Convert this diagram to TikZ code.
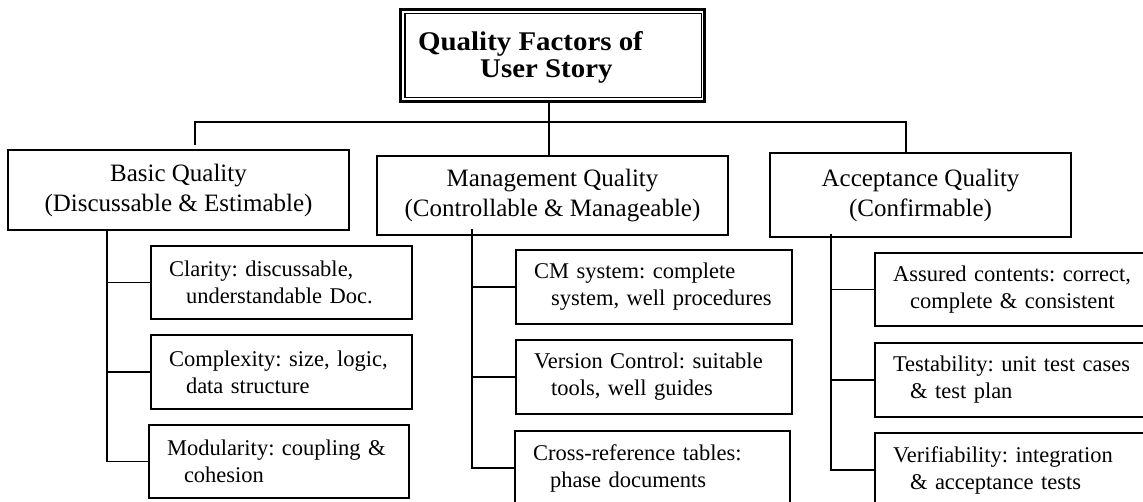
\documentclass[tikz,border=0pt]{standalone}
\usepackage{fontspec}
\setmainfont{Liberation Serif}
\newfontfamily\titlefont[FakeStretch=1.07]{Liberation Serif}
\frenchspacing
\begin{document}
\begin{tikzpicture}[x=1pt,y=-1pt,
  lvlbox/.style={draw, line width=1.8pt, inner sep=0pt, outer sep=0pt, align=center,
    font=\fontsize{25}{30}\selectfont},
  leafbox/.style={draw, line width=1.8pt, inner xsep=18pt, inner ysep=0pt, outer sep=0pt,
    align=left, font=\fontsize{22.5}{27}\selectfont},
  conn/.style={line width=1.8pt}]
\useasboundingbox (0,0) rectangle (1143,502);
\clip (0,0) rectangle (1143,502);
\fill[white] (0,0) rectangle (1143,502);

% title
\node[draw, line width=2.6pt, inner sep=0pt, outer sep=0pt,
  minimum width=304.4pt, minimum height=92.4pt] (tt) at (552.5,55.5) {};
\draw[line width=1.6pt] ([shift={(4.6,4.2)}]tt.north west) rectangle ([shift={(-3.2,-4.2)}]tt.south east);
\node[inner sep=0pt, anchor=west, align=left, font=\titlefont\bfseries\fontsize{27}{27.5}\selectfont]
  (ttx) at (418,57.5) {Quality Factors of\\\hspace*{62pt}User Story};

% level 1
\node[lvlbox, minimum width=341pt, minimum height=80pt] (bq) at (178.5,190)
  {Basic Quality\\(Discussable \& Estimable)};
\node[lvlbox, minimum width=351pt, minimum height=79pt] (mg) at (552.5,195.5)
  {Management Quality\\(Controllable \& Manageable)};
\node[lvlbox, minimum width=301pt, minimum height=84pt] (ac) at (920.5,195)
  {Acceptance Quality\\(Confirmable)};

% leaves: basic
\node[leafbox, text width=225pt, minimum height=73pt] (cl) at (281.5,282.5)
  {Clarity: discussable,\\\hspace*{17pt}understandable Doc.};
\node[leafbox, text width=225pt, minimum height=74pt] (cx) at (281.5,372)
  {Complexity: size, logic,\\\hspace*{17pt}data structure};
\node[leafbox, text width=224pt, minimum height=73pt] (mo) at (279,461.5)
  {Modularity: coupling \&\\\hspace*{17pt}cohesion};

% leaves: management
\node[leafbox, text width=240pt, minimum height=74pt] (cm) at (654,287)
  {CM system: complete\\\hspace*{17pt}system, well procedures};
\node[leafbox, text width=240pt, minimum height=74pt] (vc) at (654,377)
  {Version Control: suitable\\\hspace*{17pt}tools, well guides};
\node[leafbox, text width=239pt, minimum height=74pt] (cr) at (652.5,468)
  {Cross-reference tables:\\\hspace*{17pt}phase documents};

% leaves: acceptance
\node[leafbox, text width=249pt, minimum height=73pt] (as) at (1017.5,289.5)
  {Assured contents: correct,\\\hspace*{17pt}complete \& consistent};
\node[leafbox, text width=249pt, minimum height=74pt] (te) at (1017.5,380)
  {Testability: unit test cases\\\hspace*{17pt}\& test plan};
\node[leafbox, text width=249pt, minimum height=74pt] (ve) at (1017.5,470)
  {Verifiability: integration\\\hspace*{17pt}\& acceptance tests};

% connector guide coordinates
\coordinate (sx) at (549,0);
\coordinate (bx) at (107,0);
\coordinate (mx) at (472,0);
\coordinate (ax) at (831,0);
\coordinate (bl) at (195,145);
\coordinate (bll) at (195,122);
\coordinate (br) at (906,122);

% top connectors
\draw[conn] (tt.south -| sx) -- (mg.north -| sx);
\draw[conn] (bl) -- (bll) -- (br) -- (br |- ac.north);

% basic branch
\draw[conn] (bq.south -| bx) |- (mo.west);
\draw[conn] (cl.west -| bx) -- (cl.west);
\draw[conn] (cx.west -| bx) -- (cx.west);

% management branch
\draw[conn] ([yshift=6pt]mg.south -| mx) |- (cr.west);
\draw[conn] (cm.west -| mx) -- (cm.west);
\draw[conn] (vc.west -| mx) -- (vc.west);

% acceptance branch
\draw[conn] ([yshift=3pt]ac.south -| ax) |- (ve.west);
\draw[conn] (as.west -| ax) -- (as.west);
\draw[conn] (te.west -| ax) -- (te.west);
\end{tikzpicture}
\end{document}
